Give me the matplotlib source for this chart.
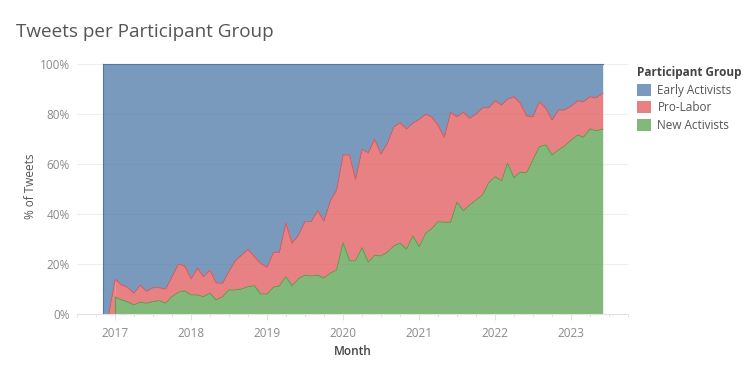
import numpy as np
import pandas as pd
import matplotlib.pyplot as plt
import matplotlib.dates as mdates
from matplotlib.patches import Patch

# monthly shares (%) per participant group, Nov 2016 .. Jun 2023
months = pd.date_range('2016-11-01', '2023-06-01', freq='MS')

new_activists = [np.nan, np.nan,
    6.7, 5.6, 4.9, 3.6, 4.7, 4.3, 4.9, 5.3, 4.3, 6.9, 8.7, 9.2,
    7.6, 7.6, 6.9, 8.3, 5.6, 6.9, 9.6, 9.6, 10.0, 10.9, 11.3, 8.0,
    8.0, 10.7, 11.2, 14.9, 11.3, 14.1, 15.5, 15.2, 15.5, 14.4, 16.3, 17.6,
    28.5, 21.3, 21.3, 26.5, 20.7, 23.5, 23.2, 24.7, 27.2, 28.3, 25.9, 31.2,
    26.9, 32.3, 34.0, 36.9, 36.7, 36.7, 44.7, 41.3, 43.6, 45.6, 47.6, 52.5,
    54.9, 53.3, 60.3, 54.5, 56.7, 56.5, 61.6, 66.9, 67.6, 63.6, 65.6, 67.2,
    69.6, 71.6, 70.7, 74.0, 73.3, 73.9]

pro_labor = [np.nan, 0.0,
    7.2, 6.0, 5.8, 4.7, 6.8, 4.8, 5.6, 5.2, 5.7, 8.0, 11.3, 10.0,
    6.5, 10.7, 8.0, 9.2, 6.9, 5.4, 7.3, 11.7, 13.6, 15.0, 11.6, 12.3,
    10.7, 14.0, 13.5, 21.4, 17.0, 17.5, 21.4, 21.7, 25.8, 22.8, 29.0, 32.0,
    35.1, 42.3, 32.6, 39.4, 43.8, 46.4, 40.8, 43.6, 47.7, 48.2, 48.1, 45.1,
    51.0, 47.6, 44.9, 38.7, 34.0, 44.0, 34.2, 39.4, 34.7, 34.4, 34.9, 30.0,
    30.4, 30.3, 25.6, 32.4, 27.6, 22.7, 17.3, 18.0, 14.7, 14.0, 16.0, 14.4,
    13.6, 13.7, 14.2, 12.9, 13.2, 14.4]

early_activists = [100.0, 100.0,
    86.1, 88.4, 89.3, 91.7, 88.5, 90.9, 89.5, 89.5, 90.0, 85.1, 80.0, 80.8,
    85.9, 81.7, 85.1, 82.5, 87.5, 87.7, 83.1, 78.7, 76.4, 74.1, 77.1, 79.7,
    81.3, 75.3, 75.3, 63.7, 71.7, 68.4, 63.1, 63.1, 58.7, 62.8, 54.7, 50.4,
    36.4, 36.4, 46.1, 34.1, 35.5, 30.1, 36.0, 31.7, 25.1, 23.5, 26.0, 23.7,
    22.1, 20.1, 21.1, 24.4, 29.3, 19.3, 21.1, 19.3, 21.7, 20.0, 17.5, 17.5,
    14.7, 16.4, 14.1, 13.1, 15.7, 20.8, 21.1, 15.1, 17.7, 22.4, 18.4, 18.4,
    16.8, 14.7, 15.1, 13.1, 13.5, 11.7]

groups = ['Early Activists', 'Pro-Labor', 'New Activists']
colors = {'Early Activists': '#4e79a7', 'Pro-Labor': '#e15759', 'New Activists': '#59a14f'}

plt.rcParams['font.family'] = ['Open Sans', 'DejaVu Sans']

fig = plt.figure(figsize=(7.54, 3.77), dpi=100)
ax = fig.add_axes([0.102, 0.167, 0.731, 0.679])

g = np.array(new_activists)
r = np.array(pro_labor)
b = np.array(early_activists)
g0 = np.nan_to_num(g)
r0 = np.nan_to_num(r)

# green starts where it has data, so the red layer goes down to zero until then
first_g = np.argmax(~np.isnan(g))
red_bot = g0.copy()
red_bot[first_g] = 0.0

# stack: green at bottom, red, then blue on top
red_top = np.where(np.isnan(r), np.nan, g0 + r0)
ax.fill_between(months[:first_g + 1], red_bot[:first_g + 1], red_top[:first_g + 1],
                color=colors['Pro-Labor'], alpha=0.75, lw=0)
ax.fill_between(months[first_g:], g0[first_g:], red_top[first_g:],
                color=colors['Pro-Labor'], alpha=0.75, lw=0)
ax.plot(months, red_top, color=colors['Pro-Labor'], lw=0.8)
ax.fill_between(months, 0, g, color=colors['New Activists'], alpha=0.75, lw=0)
ax.plot(months, g, color=colors['New Activists'], lw=0.8)
ax.plot([months[first_g]] * 2, [0, g[first_g]], color=colors['New Activists'], lw=0.8)
ax.fill_between(months, g0 + r0, g0 + r0 + b, color=colors['Early Activists'], alpha=0.75, lw=0)
ax.plot(months, g0 + r0 + b, color=colors['Early Activists'], lw=0.8)
ax.plot([months[0], months[0]], [0, 100], color=colors['Early Activists'], lw=0.8)

ax.set_xlim(pd.Timestamp('2016-07-01'), pd.Timestamp('2023-10-01'))
ax.set_ylim(0, 102.4)
ax.set_yticks([0, 20, 40, 60, 80, 100])
ax.set_yticklabels(['0%', '20%', '40%', '60%', '80%', '100%'])
ax.xaxis.set_major_locator(mdates.YearLocator())
ax.xaxis.set_major_formatter(mdates.DateFormatter('%Y'))
ax.xaxis.set_minor_locator(mdates.MonthLocator(bymonth=[1, 4, 7, 10]))

ax.grid(axis='y', color='#efefef', lw=0.8)
ax.set_axisbelow(True)
for s in ['top', 'right', 'left']:
    ax.spines[s].set_visible(False)
ax.spines['bottom'].set_color('#e2e2e2')
ax.tick_params(axis='y', length=0, labelsize=8.5, labelcolor='#8a8a8a', pad=5)
ax.tick_params(axis='x', which='major', length=4, color='#e2e2e2', labelsize=8.5,
               labelcolor='#8a8a8a', pad=5)
ax.tick_params(axis='x', which='minor', length=2, color='#e2e2e2')

ax.set_ylabel('% of Tweets', fontsize=8.5, color='#555555', labelpad=2)
ax.set_xlabel('Month', fontsize=8.5, color='#444444', fontweight='semibold', labelpad=4)

fig.text(0.021, 0.915, 'Tweets per Participant Group', fontsize=13.6, color='#555555', va='center')

handles = [Patch(facecolor=colors[k], alpha=0.75, edgecolor='none') for k in groups]
leg = fig.legend(handles, groups, loc='upper left', bbox_to_anchor=(0.839, 0.838),
                 frameon=False, title='Participant Group', fontsize=8.5,
                 handlelength=1.2, handleheight=1.2, handletextpad=0.5,
                 labelspacing=0.4, alignment='left', borderaxespad=0)
leg.get_title().set_fontweight('bold')
leg.get_title().set_fontsize(8.5)
leg.get_title().set_color('#444444')
for t in leg.get_texts():
    t.set_color('#555555')

fig.savefig('out.png', dpi=100)
